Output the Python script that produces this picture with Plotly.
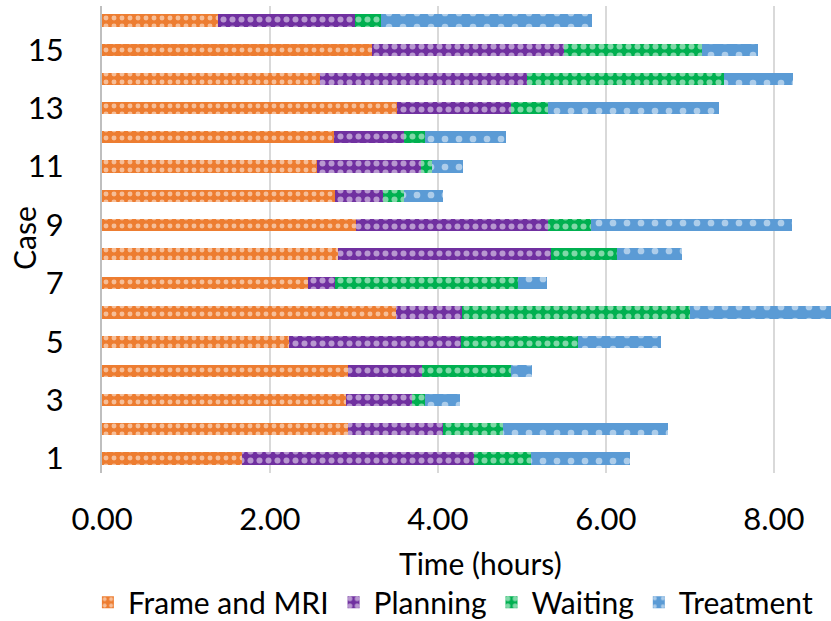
import plotly.graph_objects as go

cases = list(range(1, 17))
frame_mri = [1.67, 2.93, 2.91, 2.93, 2.23, 3.50, 2.45, 2.81, 3.02, 2.77, 2.56, 2.76, 3.51, 2.59, 3.22, 1.38]
planning = [2.76, 1.13, 0.78, 0.88, 2.04, 0.79, 0.32, 2.54, 2.29, 0.58, 1.24, 0.83, 1.36, 2.47, 2.28, 1.63]
waiting = [0.68, 0.71, 0.15, 1.06, 1.40, 2.71, 2.18, 0.78, 0.51, 0.24, 0.13, 0.25, 0.44, 2.35, 1.64, 0.31]
treatment = [1.18, 1.97, 0.42, 0.25, 0.98, 2.00, 0.35, 0.77, 2.39, 0.47, 0.37, 0.97, 2.04, 0.82, 0.67, 2.52]
series_names = ["Frame and MRI", "Planning", "Waiting", "Treatment"]
xticks = [0, 2, 4, 6, 8]
xticklabels = ["0.00", "2.00", "4.00", "6.00", "8.00"]
yticks = [1, 3, 5, 7, 9, 11, 13, 15]

colors = ["#ED7D31", "#7030A0", "#00B050", "#5B9BD5"]
psize = [8, 9, 9, 14]
psol = [0.3, 0.35, 0.35, 0.18]

FONT = "Lato"
fig = go.Figure()
for name, vals, c, sz, so in zip(series_names, [frame_mri, planning, waiting, treatment],
                                  colors, psize, psol):
    fig.add_trace(go.Bar(
        y=cases, x=vals, name=name, orientation="h",
        marker=dict(color=c, line=dict(width=0),
                    pattern=dict(shape=".", fgcolor="white", bgcolor=c,
                                 size=sz, solidity=so, fillmode="overlay")),
    ))

fig.update_layout(
    width=831, height=621,
    barmode="stack", bargap=0.58,
    margin=dict(l=102, r=0, t=6, b=148),
    plot_bgcolor="white", paper_bgcolor="white",
    font=dict(family=FONT, size=30, color="#000000"),
    showlegend=True,
    legend=dict(orientation="h", xref="container", yref="container",
                x=0.545, xanchor="center", y=0.03, yanchor="middle",
                font=dict(size=30), traceorder="normal",
                itemwidth=30, tracegroupgap=0),
    xaxis=dict(range=[0, 8.68], tickvals=xticks, ticktext=xticklabels,
               showgrid=True, gridcolor="#D9D9D9", gridwidth=2,
               zeroline=False, showline=False, ticks="",
               ticklabelstandoff=25, tickfont=dict(size=31)),
    yaxis=dict(range=[0.5, 16.5], tickvals=yticks, ticktext=[str(v) for v in yticks],
               showgrid=False, zeroline=False, showline=True,
               linecolor="#BFBFBF", linewidth=2, ticks="",
               ticklabelstandoff=30, tickfont=dict(size=31)),
)

fig.add_annotation(text="Case", xref="paper", yref="paper",
                   x=(24 - 102) / 729, y=(473 - 238) / 467, textangle=-90,
                   xanchor="center", yanchor="middle", showarrow=False,
                   font=dict(size=30, family=FONT))
fig.add_annotation(text="Time (hours)", xref="paper", yref="paper",
                   x=(480 - 102) / 729, y=(473 - 563) / 467,
                   xanchor="center", yanchor="middle", showarrow=False,
                   font=dict(size=30, family=FONT))

fig.write_html("out.html")
